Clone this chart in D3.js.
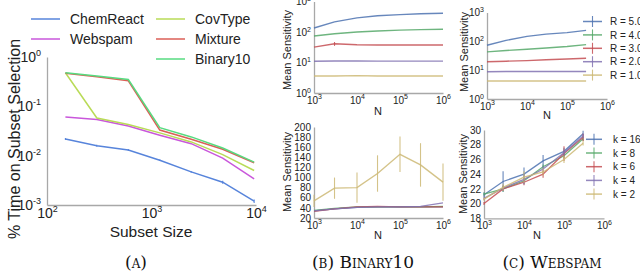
<!DOCTYPE html>
<html>
<head>
<meta charset="utf-8">
<script src="https://cdn.jsdelivr.net/npm/d3@7.9.0/dist/d3.min.js"></script>
<style>
  body { margin: 0; background: #fff; }
  svg { display: block; font-family: "Liberation Sans", Arial, sans-serif; }
</style>
</head>
<body>
<svg id="fig" width="640" height="272"></svg>
<script>
// ---- panel (a): % time on subset selection ----
const subsetSizes = [150, 300, 600, 1200, 2400, 4800, 9600];
const chemReact   = [0.0218, 0.0159, 0.0130, 0.0081, 0.0047, 0.0029, 0.0012];
const chemReactErr = [0.0010, 0.0008, 0.0006, 0.0003, 0.0002, 0.0002, 0.0001];
const webspamTime = [0.061, 0.054, 0.040, 0.026, 0.0175, 0.0089, 0.0034];
const covType     = [0.48, 0.058, 0.043, 0.029, 0.019, 0.0105, 0.005];
const mixture     = [0.47, 0.40, 0.33, 0.033, 0.0215, 0.0135, 0.0072];
const binary10    = [0.48, 0.41, 0.35, 0.037, 0.024, 0.0143, 0.0074];
const datasetNames = ['ChemReact', 'Webspam', 'CovType', 'Mixture', 'Binary10'];

// ---- shared N values ----
const nBinary  = [1e3, 3e3, 1e4, 3e4, 1e5, 3e5, 1e6];
const nWebspam = [1e3, 3e3, 1e4, 3e4, 1e5, 3e5];
const rLabels = ['R = 5.0', 'R = 4.0', 'R = 3.0', 'R = 2.0', 'R = 1.0'];
const kLabels = ['k = 16', 'k = 8', 'k = 6', 'k = 4', 'k = 2'];

// ---- panel (b) top: Binary10 vs R ----
const binR5 = [135, 215, 290, 340, 370, 395, 410];
const binR4 = [74, 88, 100, 108, 115, 120, 123];
const binR3 = [32, 41, 38, 37.5, 37.5, 37.5, 37.5];
const binR3Err = [0, 6, 0, 0, 0, 0, 0];
const binR2 = [11.0, 11.2, 11.2, 11.1, 11.1, 11.1, 11.1];
const binR1 = [3.6, 3.6, 3.7, 3.6, 3.6, 3.6, 3.6];

// ---- panel (b) bottom: Binary10 vs k ----
const binK16 = [34, 38, 41, 42, 42, 42, 42];
const binK8  = [35, 39, 42, 42, 42, 42, 43];
const binK6  = [33, 38, 42, 43, 42, 42, 42];
const binK4  = [34, 38, 41, 42, 42, 43, 50];
const binK2  = [54, 79, 80, 108, 146, 125, 91];
const binK2Err = [12, 21, 30, 36, 35, 43, 37];

// ---- panel (c) top: Webspam vs R ----
const webR5 = [73, 108, 149, 178, 200, 240];
const webR4 = [43, 48, 53, 59, 66, 77];
const webR3 = [19.5, 20.5, 21.5, 23, 24.5, 26];
const webR2 = [8.8, 9.0, 9.0, 9.0, 9.0, 9.0];
const webR1 = [4.2, 4.2, 4.2, 4.2, 4.2, 4.2];

// ---- panel (c) bottom: Webspam vs k ----
const webK16 = [21.2, 23.0, 24.0, 25.8, 27.1, 29.5];
const webK8  = [21.3, 22.0, 23.1, 25.0, 26.5, 28.8];
const webK6  = [20.0, 22.0, 22.9, 24.0, 26.8, 29.0];
const webK4  = [20.7, 22.1, 23.3, 24.7, 26.9, 29.2];
const webK2  = [20.6, 22.2, 23.6, 24.3, 26.0, 28.2];
const webK16Err = [0.3, 1.4, 0.9, 0.8, 0.5, 0.4];
const webK8Err  = [0.2, 0.4, 0.4, 0.3, 0.4, 0.3];
const webK6Err  = [0.2, 0.3, 0.4, 0.5, 1.0, 0.5];
const webK4Err  = [0.2, 0.4, 0.7, 0.4, 0.4, 0.3];
const webK2Err  = [0.2, 0.5, 0.8, 0.5, 0.5, 0.3];

const hls  = ['#5784db', '#c957db', '#b9db57', '#db5f57', '#57db80'];
const deep = ['#4C72B0', '#55A868', '#C44E52', '#8172B2', '#CCB974'];

const svg = d3.select('#fig');

// "10" with a raised exponent
function powerLabels(sel, fs, supFs) {
  sel.each(function(d) {
    const t = d3.select(this).text(null);
    const e = Math.round(Math.log10(d));
    t.append('tspan').text('10');
    t.append('tspan').attr('font-size', supFs).attr('dy', -fs * 0.42).text(e);
  });
}

function panel(cfg) {
  const g = svg.append('g');
  const x = d3.scaleLog().domain(cfg.xDomain).range(cfg.xRange);
  const y = (cfg.yLog ? d3.scaleLog() : d3.scaleLinear()).domain(cfg.yDomain).range(cfg.yRange);

  const xa = g.append('g')
    .attr('transform', `translate(0,${cfg.yRange[0]})`)
    .call(d3.axisBottom(x).tickValues(cfg.xTicks).tickSize(0).tickSizeOuter(0).tickPadding(cfg.xPad));
  const ya = g.append('g')
    .attr('transform', `translate(${cfg.xRange[0]},0)`)
    .call(d3.axisLeft(y).tickValues(cfg.yTicks).tickSize(0).tickSizeOuter(0).tickPadding(cfg.yPad));

  [xa, ya].forEach(a => {
    a.attr('font-family', null).attr('font-size', cfg.fs);
    a.select('.domain').attr('stroke', '#a8a8a8').attr('stroke-width', 1.3);
    a.selectAll('.tick text').attr('fill', '#222');
  });
  xa.selectAll('.tick text').call(powerLabels, cfg.fs, cfg.supFs);
  if (cfg.yLog) ya.selectAll('.tick text').call(powerLabels, cfg.fs, cfg.supFs);

  return { g, x, y };
}

function drawSeries(p, xs, ys, color, opts = {}) {
  const pts = xs.map((v, i) => [v, ys[i]]);
  const line = d3.line().x(d => p.x(d[0])).y(d => p.y(d[1]));
  p.g.append('path').datum(pts)
    .attr('fill', 'none').attr('stroke', color)
    .attr('stroke-width', opts.width || 1.4)
    .attr('stroke-opacity', opts.opacity || 1)
    .attr('d', line);
  if (opts.err) {
    p.g.selectAll(null).data(pts.map((d, i) => [d[0], d[1], opts.err[i]]).filter(d => d[2] > 0))
      .join('line')
      .attr('x1', d => p.x(d[0])).attr('x2', d => p.x(d[0]))
      .attr('y1', d => p.y(d[1] - d[2])).attr('y2', d => p.y(d[1] + d[2]))
      .attr('stroke', color).attr('stroke-width', 1.1)
      .attr('stroke-opacity', opts.opacity || 1);
  }
}

function yTitle(text, x, y, fs) {
  svg.append('text')
    .attr('transform', `translate(${x},${y}) rotate(-90)`)
    .attr('text-anchor', 'middle').attr('font-size', fs).attr('fill', '#222')
    .text(text);
}
function xTitle(text, x, y, fs) {
  svg.append('text').attr('x', x).attr('y', y)
    .attr('text-anchor', 'middle').attr('font-size', fs).attr('fill', '#222')
    .text(text);
}

// ===== (a) =====
const pa = panel({
  xDomain: [100, 10000], xRange: [47, 256], xTicks: [100, 1000, 10000], xPad: 3,
  yLog: true, yDomain: [0.001, 1], yRange: [205, 57], yTicks: [0.001, 0.01, 0.1, 1], yPad: 6,
  fs: 14, supFs: 9
});
const seriesA = [chemReact, webspamTime, covType, mixture, binary10];
seriesA.forEach((s, i) => drawSeries(pa, subsetSizes, s, hls[i], {
  width: 1.5, err: i === 0 ? chemReactErr : null
}));
yTitle('% Time on Subset Selection', 20, 139, 16);
xTitle('Subset Size', 151, 237, 15.5);

const legA = svg.append('g').attr('font-size', 14).attr('fill', '#222');
datasetNames.forEach((name, i) => {
  const col = i < 2 ? 0 : 1, row = i < 2 ? i : i - 2;
  const lx = col === 0 ? 31 : 156, ly = 19 + row * 20;
  legA.append('line').attr('x1', lx).attr('x2', lx + 29).attr('y1', ly).attr('y2', ly)
    .attr('stroke', hls[i]).attr('stroke-width', 1.5);
  legA.append('text').attr('x', lx + 39).attr('y', ly + 5).text(name);
});

// ===== (b) top =====
const pbt = panel({
  xDomain: [1e3, 1e6], xRange: [314, 443], xTicks: [1e3, 1e4, 1e5, 1e6], xPad: 3.5,
  yLog: true, yDomain: [1, 1000], yRange: [93, 1.5], yTicks: [1, 10, 100, 1000], yPad: 3,
  fs: 10, supFs: 7
});
[binR5, binR4, binR3, binR2, binR1].forEach((s, i) => drawSeries(pbt, nBinary, s, deep[i], {
  width: 1.4, opacity: 0.85, err: i === 2 ? binR3Err : null
}));
yTitle('Mean Sensitivity', 291, 50, 11);
xTitle('N', 378, 115, 11);

// ===== (b) bottom =====
const pbb = panel({
  xDomain: [1e3, 1e6], xRange: [314, 443], xTicks: [1e3, 1e4, 1e5, 1e6], xPad: 3.5,
  yLog: false, yDomain: [20, 200], yRange: [218, 127], yTicks: d3.range(20, 201, 20), yPad: 3,
  fs: 10, supFs: 7
});
[binK16, binK8, binK6, binK4, binK2].forEach((s, i) => drawSeries(pbb, nBinary, s, deep[i], {
  width: 1.4, opacity: 0.85, err: i === 4 ? binK2Err : null
}));
yTitle('Mean Sensitivity', 291, 172, 11);
xTitle('N', 378, 239, 11);

// ===== (c) top =====
const pct = panel({
  xDomain: [1e3, 1e6], xRange: [487, 607], xTicks: [1e3, 1e4, 1e5, 1e6], xPad: 3.5,
  yLog: true, yDomain: [1, 1000], yRange: [99, 12.5], yTicks: [1, 10, 100, 1000], yPad: 3,
  fs: 10, supFs: 7
});
[webR5, webR4, webR3, webR2, webR1].forEach((s, i) => drawSeries(pct, nWebspam, s, deep[i], {
  width: 1.4, opacity: 0.85
}));
yTitle('Mean Sensitivity', 468, 52, 11);
xTitle('N', 547, 119, 11);

// ===== (c) bottom =====
const pcb = panel({
  xDomain: [1e3, 1e6], xRange: [484, 604], xTicks: [1e3, 1e4, 1e5, 1e6], xPad: 3.5,
  yLog: false, yDomain: [18, 30], yRange: [218.3, 130], yTicks: d3.range(18, 31, 2), yPad: 3,
  fs: 10, supFs: 7
});
const webK = [webK16, webK8, webK6, webK4, webK2];
const webKErr = [webK16Err, webK8Err, webK6Err, webK4Err, webK2Err];
webK.forEach((s, i) => drawSeries(pcb, nWebspam, s, deep[i], {
  width: 1.3, opacity: 0.85, err: webKErr[i]
}));
yTitle('Mean Sensitivity', 467, 174, 11);
xTitle('N', 537, 239, 11);

// legends with errorbar handles
function errLegend(labels, x0, x1, tx, y0, dy) {
  const lg = svg.append('g').attr('font-size', 10).attr('fill', '#222');
  labels.forEach((lab, i) => {
    const ly = y0 + i * dy, cx = (x0 + x1) / 2;
    lg.append('line').attr('x1', x0).attr('x2', x1).attr('y1', ly).attr('y2', ly)
      .attr('stroke', deep[i]).attr('stroke-width', 1.5).attr('stroke-opacity', 0.85);
    lg.append('line').attr('x1', cx).attr('x2', cx).attr('y1', ly - 5.5).attr('y2', ly + 5.5)
      .attr('stroke', deep[i]).attr('stroke-width', 1.1).attr('stroke-opacity', 0.85);
    lg.append('text').attr('x', tx).attr('y', ly + 3.6).text(lab);
  });
}
errLegend(rLabels, 583, 602, 610, 21.5, 13.4);
errLegend(kLabels, 586, 602, 613, 139.3, 13.7);

// captions
const caps = [['(a)', 136], ['(b) Binary10', 363], ['(c) Webspam', 552]];
caps.forEach(([t, cx]) => {
  svg.append('text').attr('x', cx).attr('y', 268)
    .attr('text-anchor', 'middle')
    .attr('font-family', '"DejaVu Serif", serif')
    .attr('font-size', 17).attr('font-variant', 'small-caps').attr('fill', '#111')
    .text(t);
});
</script>
</body>
</html>
